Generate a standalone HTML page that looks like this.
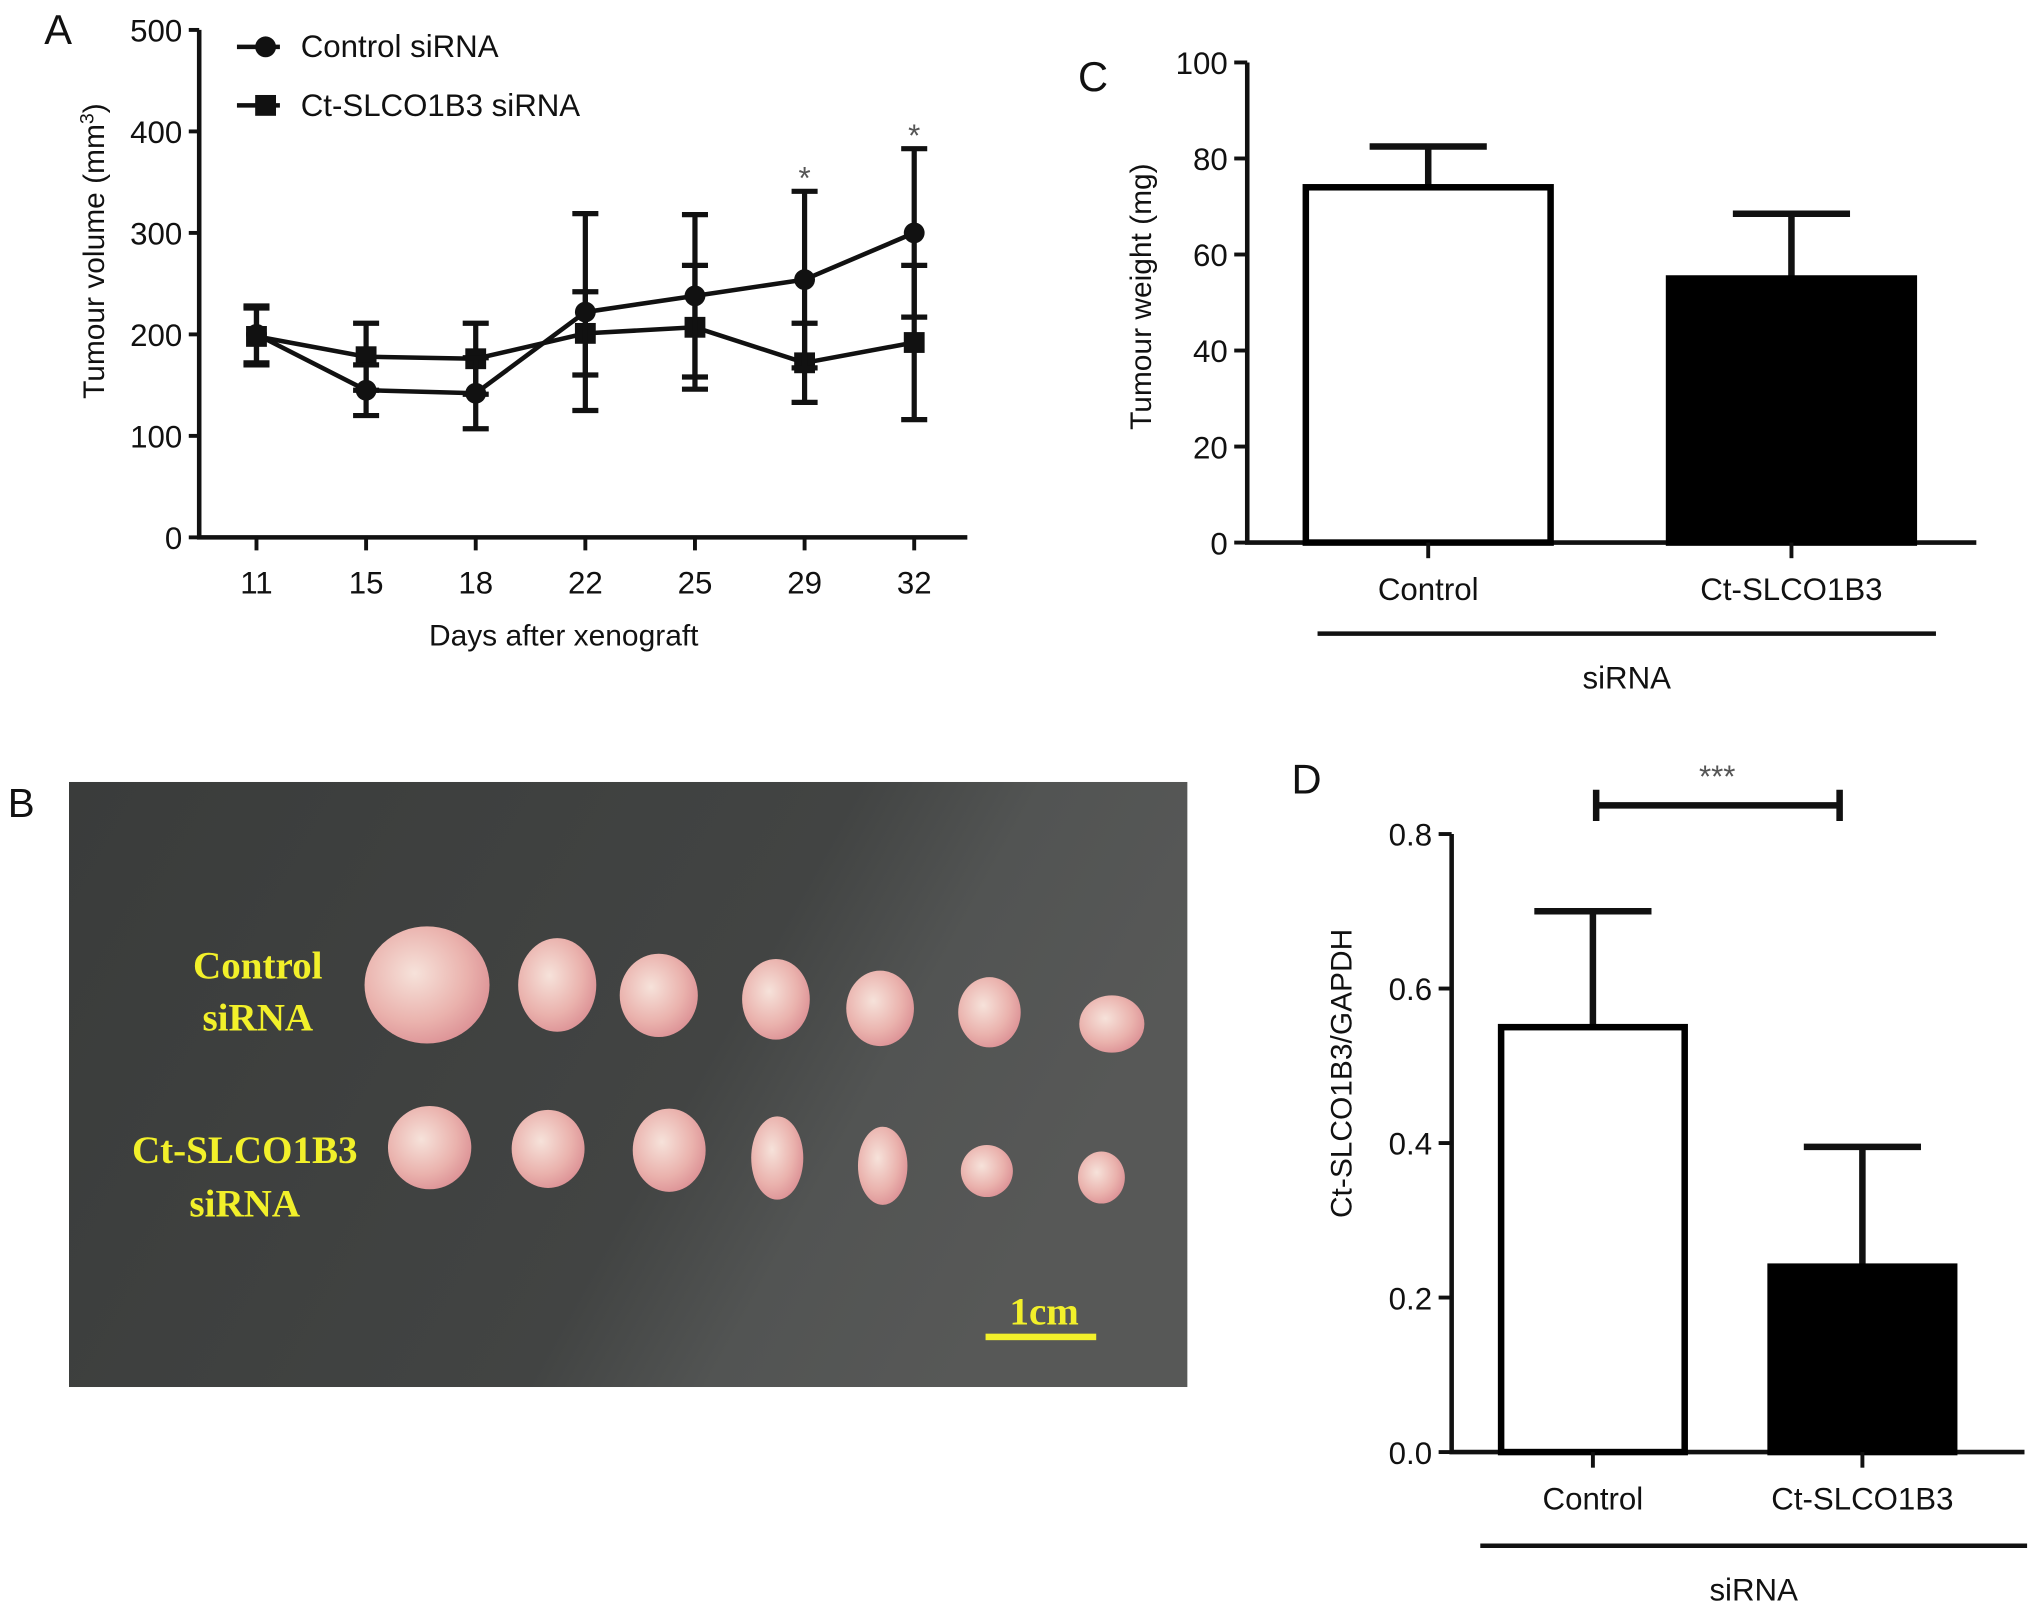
<!DOCTYPE html>
<html><head><meta charset="utf-8"><style>
html,body{margin:0;padding:0;background:#fff;}
svg{display:block;}
text{font-family:"Liberation Sans",Arial,sans-serif;fill:#111;}
</style></head><body>
<svg id="fig" width="2031" height="1603" viewBox="0 0 1560 1232" preserveAspectRatio="none" xmlns="http://www.w3.org/2000/svg">
<defs>
<linearGradient id="bg" x1="0" y1="0" x2="1" y2="0.3">
<stop offset="0" stop-color="#3a3c3b"/><stop offset="0.65" stop-color="#424443"/><stop offset="0.8" stop-color="#525453"/><stop offset="1" stop-color="#575857"/>
</linearGradient>
<radialGradient id="tum" cx="0.4" cy="0.4" r="0.7">
<stop offset="0" stop-color="#f6e2da"/><stop offset="0.6" stop-color="#eab2ad"/><stop offset="1" stop-color="#d98a90"/>
</radialGradient>
</defs>
<g id="panelA"></g>
<g id="panelB">
<rect x="53" y="601" width="859" height="465" fill="url(#bg)"/>
<text x="6" y="628" font-size="31">B</text>
<g id="tumours"></g>
<text x="198" y="752" font-size="30" font-weight="bold" text-anchor="middle" style="font-family:'Liberation Serif',serif;fill:#f2f02a">Control</text>
<text x="198" y="792" font-size="30" font-weight="bold" text-anchor="middle" style="font-family:'Liberation Serif',serif;fill:#f2f02a">siRNA</text>
<text x="188" y="894" font-size="30" font-weight="bold" text-anchor="middle" style="font-family:'Liberation Serif',serif;fill:#f2f02a">Ct-SLCO1B3</text>
<text x="188" y="935" font-size="30" font-weight="bold" text-anchor="middle" style="font-family:'Liberation Serif',serif;fill:#f2f02a">siRNA</text>
<text x="802" y="1018" font-size="30" font-weight="bold" text-anchor="middle" style="font-family:'Liberation Serif',serif;fill:#f2f02a">1cm</text>
<rect x="757" y="1025" width="85" height="5" fill="#f2f02a"/>
</g>
<g id="panelC"></g>
<g id="panelD"></g>
</svg>
<script>
// Panel A data
const days = ["11","15","18","22","25","29","32"];
const controlMean = [200,145,142,222,238,254,300];
const controlErr = [28,25,35,97,80,87,83];
const ctMean = [198,178,176,201,207,172,192];
const ctErr = [28,33,35,41,61,39,76];
const aTicks = [0,100,200,300,400,500];
// Panel C data
const cCats = ["Control","Ct-SLCO1B3"];
const cMean = [74,55];
const cErr = [8.5,13.5];
const cTicks = [0,20,40,60,80,100];
// Panel D data
const dCats = ["Control","Ct-SLCO1B3"];
const dMean = [0.55,0.24];
const dErr = [0.15,0.155];
const dTicks = ["0.0","0.2","0.4","0.6","0.8"];

const NS="http://www.w3.org/2000/svg";
function mk(parent,tag,attrs,txt){const e=document.createElementNS(NS,tag);for(const k in attrs)e.setAttribute(k,attrs[k]);if(txt!==undefined)e.textContent=txt;parent.appendChild(e);return e;}

(function(){
 const g=document.getElementById('tumours');
 const t=[[328,757,48,45],[428,757,30,36],[506,765,30,32],[596,768,26,31],[676,775,26,29],[760,778,24,27],[854,787,25,22],
          [330,882,32,32],[421,883,28,30],[514,884,28,32],[597,890,20,32],[678,896,19,30],[758,900,20,20],[846,905,18,20]];
 t.forEach(function(p){
  const e=mk(g,'ellipse',{cx:p[0],cy:p[1],rx:p[2],ry:p[3],fill:'url(#tum)'});
  
  
 });
})();

(function(){
 const g=document.getElementById('panelA');
 const x0=153,xR=743,yTop=23,yBot=413;
 const y=v=>yBot-(v/500)*(yBot-yTop);
 const xs=i=>197+i*84.2;
 let t=mk(g,'text',{x:34,y:34,'font-size':32},'A');
 let ax=mk(g,'path',{d:`M${x0},${yTop} V${yBot} H${xR}`,stroke:'#111','stroke-width':3.5,fill:'none'});
 
 aTicks.forEach(v=>{
  const l=mk(g,'line',{x1:x0-8,x2:x0,y1:y(v),y2:y(v),stroke:'#111','stroke-width':3});
  
  const tt=mk(g,'text',{x:x0-13,y:y(v)+9,'font-size':24,'text-anchor':'end'},String(v));
  
 });
 days.forEach((d,i)=>{
  const l=mk(g,'line',{x1:xs(i),x2:xs(i),y1:yBot,y2:yBot+10,stroke:'#111','stroke-width':3});
  
  const tt=mk(g,'text',{x:xs(i),y:456,'font-size':24,'text-anchor':'middle'},d);
  
 });
 t=mk(g,'text',{x:433,y:496,'font-size':23,'text-anchor':'middle'},'Days after xenograft');
 t=mk(g,'text',{x:0,y:0,'font-size':23,'text-anchor':'middle',transform:'translate(80,193) rotate(-90)'});
 t.innerHTML='Tumour volume (mm<tspan dy="-8" font-size="15">3</tspan><tspan dy="8">)</tspan>';
 
 function series(mean,err,name,marker){
  const sg=mk(g,'g',{});
  mean.forEach((m,i)=>{
   const e=mk(sg,'path',{d:`M${xs(i)},${y(m-err[i])} V${y(m+err[i])} M${xs(i)-10},${y(m+err[i])} h20 M${xs(i)-10},${y(m-err[i])} h20`,stroke:'#111','stroke-width':4,fill:'none'});
   
  });
  const pl=mk(sg,'polyline',{points:mean.map((m,i)=>xs(i)+','+y(m)).join(' '),stroke:'#111','stroke-width':3.5,fill:'none'});
  
  mean.forEach((m,i)=>{
   const p= marker==='c'? mk(sg,'circle',{cx:xs(i),cy:y(m),r:8,fill:'#111'}) : mk(sg,'rect',{x:xs(i)-8,y:y(m)-8,width:16,height:16,fill:'#111'});
   
  });
 }
 series(ctMean,ctErr,'ct-slco1b3-series','s');
 series(controlMean,controlErr,'control-series','c');
 [5,6].forEach(i=>{
  const top=y(controlMean[i]+controlErr[i]);
  const tt=mk(g,'text',{x:xs(i),y:top-2,'font-size':24,'text-anchor':'middle',style:'fill:#555'},'*');
  
 });
 let lg=mk(g,'g',{});
 let e1=mk(lg,'line',{x1:182,x2:215,y1:36,y2:36,stroke:'#111','stroke-width':3.5});
 e1=mk(lg,'circle',{cx:204,cy:36,r:8,fill:'#111'});
 e1=mk(lg,'text',{x:231,y:44,'font-size':24},'Control siRNA');
 e1=mk(lg,'line',{x1:182,x2:215,y1:81,y2:81,stroke:'#111','stroke-width':3.5});
 e1=mk(lg,'rect',{x:196,y:73,width:16,height:16,fill:'#111'});
 e1=mk(lg,'text',{x:231,y:89,'font-size':24},'Ct-SLCO1B3 siRNA');
})();

function barChart(gid,cfg){
 const g=document.getElementById(gid);
 const y=v=>cfg.yBot-(v/cfg.max)*(cfg.yBot-cfg.yTop);
 let t=mk(g,'text',{x:cfg.lx,y:cfg.ly,'font-size':32},cfg.letter);
 let ax=mk(g,'path',{d:`M${cfg.x0},${cfg.yTop} V${cfg.yBot} H${cfg.xR}`,stroke:'#111','stroke-width':3.5,fill:'none'});
 
 cfg.ticks.forEach(lbl=>{
  const v=parseFloat(lbl);
  const l=mk(g,'line',{x1:cfg.x0-10,x2:cfg.x0,y1:y(v),y2:y(v),stroke:'#111','stroke-width':3});
  
  const tt=mk(g,'text',{x:cfg.x0-15,y:y(v)+9,'font-size':24,'text-anchor':'end'},String(lbl));
  
 });
 cfg.cats.forEach((c,i)=>{
  const bx=cfg.bx[i],bw=cfg.bw,cx=bx+bw/2;
  const top=y(cfg.mean[i]),et=y(cfg.mean[i]+cfg.err[i]);
  const eb=mk(g,'path',{d:`M${cx},${top} V${et} M${cx-45},${et} h90`,stroke:'#111','stroke-width':5,fill:'none'});
  
  const r=mk(g,'rect',{x:bx,y:top,width:bw,height:cfg.yBot-top,fill:i===0?'#fff':'#000',stroke:'#000','stroke-width':5});
  
  const l=mk(g,'line',{x1:cx,x2:cx,y1:cfg.yBot,y2:cfg.yBot+12,stroke:'#111','stroke-width':3});
  
  const tt=mk(g,'text',{x:cx,y:cfg.yBot+44,'font-size':24,'text-anchor':'middle'},c);
  
 });
 let gl=mk(g,'line',{x1:cfg.gl[0],x2:cfg.gl[1],y1:cfg.gl[2],y2:cfg.gl[2],stroke:'#111','stroke-width':3.5});
 
 t=mk(g,'text',{x:(cfg.gl[0]+cfg.gl[1])/2,y:cfg.gl[2]+42,'font-size':24,'text-anchor':'middle'},'siRNA');
 
 t=mk(g,'text',{x:0,y:0,'font-size':23,'text-anchor':'middle',transform:`translate(${cfg.tx},${cfg.ty}) rotate(-90)`},cfg.title);
 
 return {g:g,y:y};
}
barChart('panelC',{letter:'C',lx:828,ly:70,x0:958,xR:1518,yTop:48,yBot:417,max:100,ticks:cTicks,cats:cCats,mean:cMean,err:cErr,bx:[1003,1282],bw:188,gl:[1012,1487,487],tx:884,ty:228,title:'Tumour weight (mg)'});
const D=barChart('panelD',{letter:'D',lx:992,ly:610,x0:1115,xR:1555,yTop:641,yBot:1116,max:0.8,ticks:dTicks,cats:dCats,mean:dMean,err:dErr,bx:[1153,1360],bw:141,gl:[1137,1557,1188],tx:1038,ty:825,title:'Ct-SLCO1B3/GAPDH'});
(function(){
 const g=D.g;
 const b=mk(g,'path',{d:'M1226,619 H1413 M1226,607 v24 M1413,607 v24',stroke:'#111','stroke-width':5,fill:'none'});
 
 const t=mk(g,'text',{x:1319,y:605,'font-size':24,'text-anchor':'middle',style:'fill:#555'},'***');
 
})();
</script>
</body></html>
